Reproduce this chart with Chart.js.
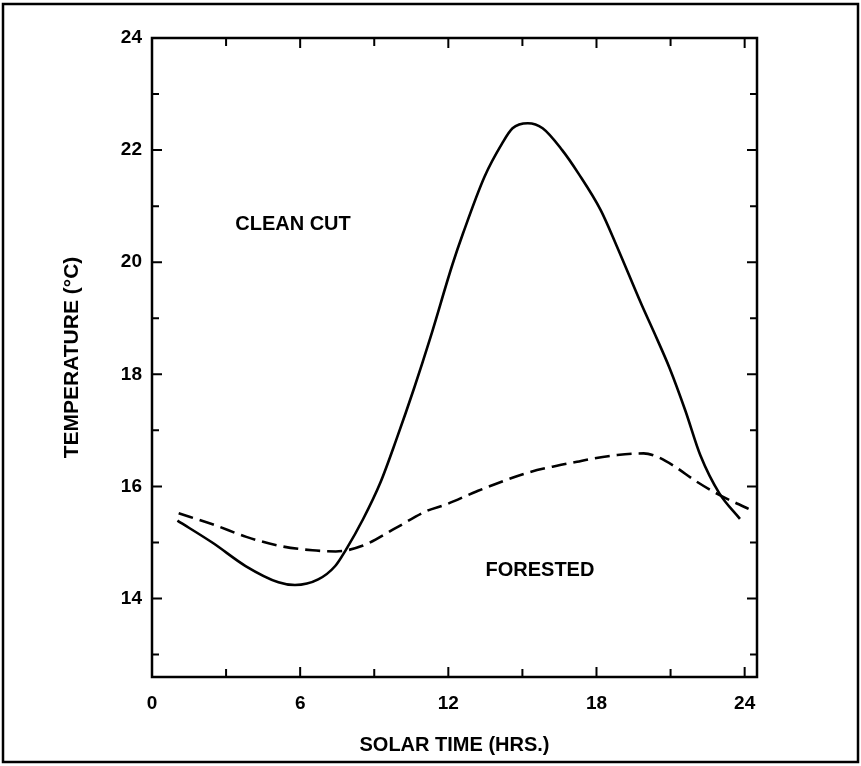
<!DOCTYPE html>
<html>
<head>
<meta charset="utf-8">
<title>Temperature - solar time</title>
<script src="https://cdn.jsdelivr.net/npm/chart.js@4.4.0/dist/chart.umd.min.js"></script>
<style>
  html, body { margin: 0; padding: 0; background: #fff; }
  #wrap { width: 861px; height: 766px; }
</style>
</head>
<body>
<div id="wrap"><canvas id="tempChart" width="861" height="766"></canvas></div>
<script>
// values (hours, deg C)
const cleanCutHours = [1.03, 2.47, 3.79, 5.12, 5.79, 6.73, 7.42, 7.84, 8.54, 9.25, 9.89, 10.62, 11.27, 12.16, 12.6,
    13.47, 14.18, 14.6, 15.22, 15.82, 16.61, 17.26, 18.17, 18.81, 19.82, 20.33, 20.97, 21.6, 22.21, 22.97, 23.81];
const cleanCutTemp = [15.39, 14.99, 14.58, 14.29, 14.24, 14.34, 14.58, 14.86, 15.41, 16.07, 16.83, 17.76, 18.65, 19.95, 20.52,
    21.53, 22.12, 22.39, 22.48, 22.39, 22.0, 21.59, 20.93, 20.3, 19.25, 18.75, 18.1, 17.35, 16.55, 15.88, 15.42];

const forestedHours = [1.08, 2.48, 3.82, 5.16, 6.5, 7.44, 8.52, 9.88, 11.11, 11.92, 13.14, 15.18, 16.4, 17.21, 17.76,
    18.84, 19.91, 20.45, 21.12, 22.04, 22.97, 24.16];
const forestedTemp = [15.52, 15.32, 15.1, 14.94, 14.86, 14.84, 14.94, 15.26, 15.56, 15.68, 15.91, 16.24, 16.37, 16.44, 16.49,
    16.56, 16.59, 16.53, 16.37, 16.09, 15.85, 15.6];

const xTickLabels = [0, 6, 12, 18, 24];
const xMinorTicks = [3, 9, 15, 21];
const yTickLabels = [14, 16, 18, 20, 22, 24];
const yMinorTicks = [13, 15, 17, 19, 21, 23];

// curve labels inside the plot (hour, temperature)
const notes = [
    { text: 'CLEAN CUT', at: [5.71, 20.67] },
    { text: 'FORESTED', at: [15.71, 14.5] },
];

const FONT = 'Liberation Sans, Arial, Helvetica, sans-serif';
Chart.defaults.color = '#000';
Chart.defaults.font.family = FONT;

function toPoints(xs, ys) {
    return xs.map((h, i) => ({ x: h, y: ys[i] }));
}

// frame, inward tick marks, outer border and the two curve labels
const frameAndTicks = {
    id: 'frameAndTicks',
    afterDraw(chart) {
        const { ctx, chartArea: a, scales: { x, y } } = chart;
        ctx.save();
        ctx.strokeStyle = '#000';
        ctx.lineWidth = 2.5;
        ctx.strokeRect(a.left, a.top, a.right - a.left, a.bottom - a.top);

        ctx.lineWidth = 2;
        ctx.beginPath();
        xTickLabels.concat(xMinorTicks).forEach(v => {
            const px = x.getPixelForValue(v);
            const len = xMinorTicks.includes(v) ? 8 : 10;
            ctx.moveTo(px, a.bottom); ctx.lineTo(px, a.bottom - len);
            ctx.moveTo(px, a.top); ctx.lineTo(px, a.top + len);
        });
        yTickLabels.concat(yMinorTicks).forEach(v => {
            const py = y.getPixelForValue(v);
            const len = yMinorTicks.includes(v) ? 7 : 10;
            ctx.moveTo(a.left, py); ctx.lineTo(a.left + len, py);
            ctx.moveTo(a.right, py); ctx.lineTo(a.right - len, py);
        });
        ctx.stroke();

        ctx.lineWidth = 2.5;
        ctx.strokeRect(3, 4, chart.width - 6, chart.height - 8);

        ctx.fillStyle = '#000';
        ctx.font = 'bold 20px ' + FONT;
        ctx.textAlign = 'center';
        ctx.textBaseline = 'middle';
        notes.forEach(n => {
            ctx.fillText(n.text, x.getPixelForValue(n.at[0]), y.getPixelForValue(n.at[1]));
        });
        ctx.restore();
    }
};

const config = {
    type: 'line',
    data: {
        datasets: [
            {
                label: 'Clean cut',
                data: toPoints(cleanCutHours, cleanCutTemp),
                borderColor: '#000',
                borderWidth: 2.6,
                pointRadius: 0,
                cubicInterpolationMode: 'monotone',
                fill: false,
            },
            {
                label: 'Forested',
                data: toPoints(forestedHours, forestedTemp),
                borderColor: '#000',
                borderWidth: 2.6,
                borderDash: [15, 7],
                pointRadius: 0,
                cubicInterpolationMode: 'monotone',
                fill: false,
            },
        ],
    },
    options: {
        responsive: false,
        animation: false,
        layout: { padding: { top: 38, right: 104, left: 0, bottom: 0 } },
        plugins: {
            legend: { display: false },
            tooltip: { enabled: false },
        },
        scales: {
            x: {
                type: 'linear',
                min: 0,
                max: 24.5,
                afterBuildTicks: s => { s.ticks = xTickLabels.map(v => ({ value: v })); },
                afterFit: s => { s.height = 89; },
                grid: { display: false, drawTicks: false },
                border: { display: false },
                ticks: { padding: 15, font: { size: 19, weight: 'bold' }, maxRotation: 0 },
                title: {
                    display: true,
                    text: 'SOLAR TIME (HRS.)',
                    font: { size: 20, weight: 'bold' },
                    padding: { top: 0, bottom: 9 },
                },
            },
            y: {
                type: 'linear',
                min: 12.6,
                max: 24,
                afterBuildTicks: s => { s.ticks = yTickLabels.map(v => ({ value: v })); },
                afterFit: s => { s.width = 152; },
                grid: { display: false, drawTicks: false },
                border: { display: false },
                ticks: { padding: 10, font: { size: 19, weight: 'bold' } },
                title: {
                    display: true,
                    text: 'TEMPERATURE (°C)',
                    font: { size: 21, weight: 'bold' },
                    padding: { top: 60, bottom: 0 },
                },
            },
        },
    },
    plugins: [frameAndTicks],
};

const tempChart = new Chart(document.getElementById('tempChart').getContext('2d'), config);
</script>
</body>
</html>
